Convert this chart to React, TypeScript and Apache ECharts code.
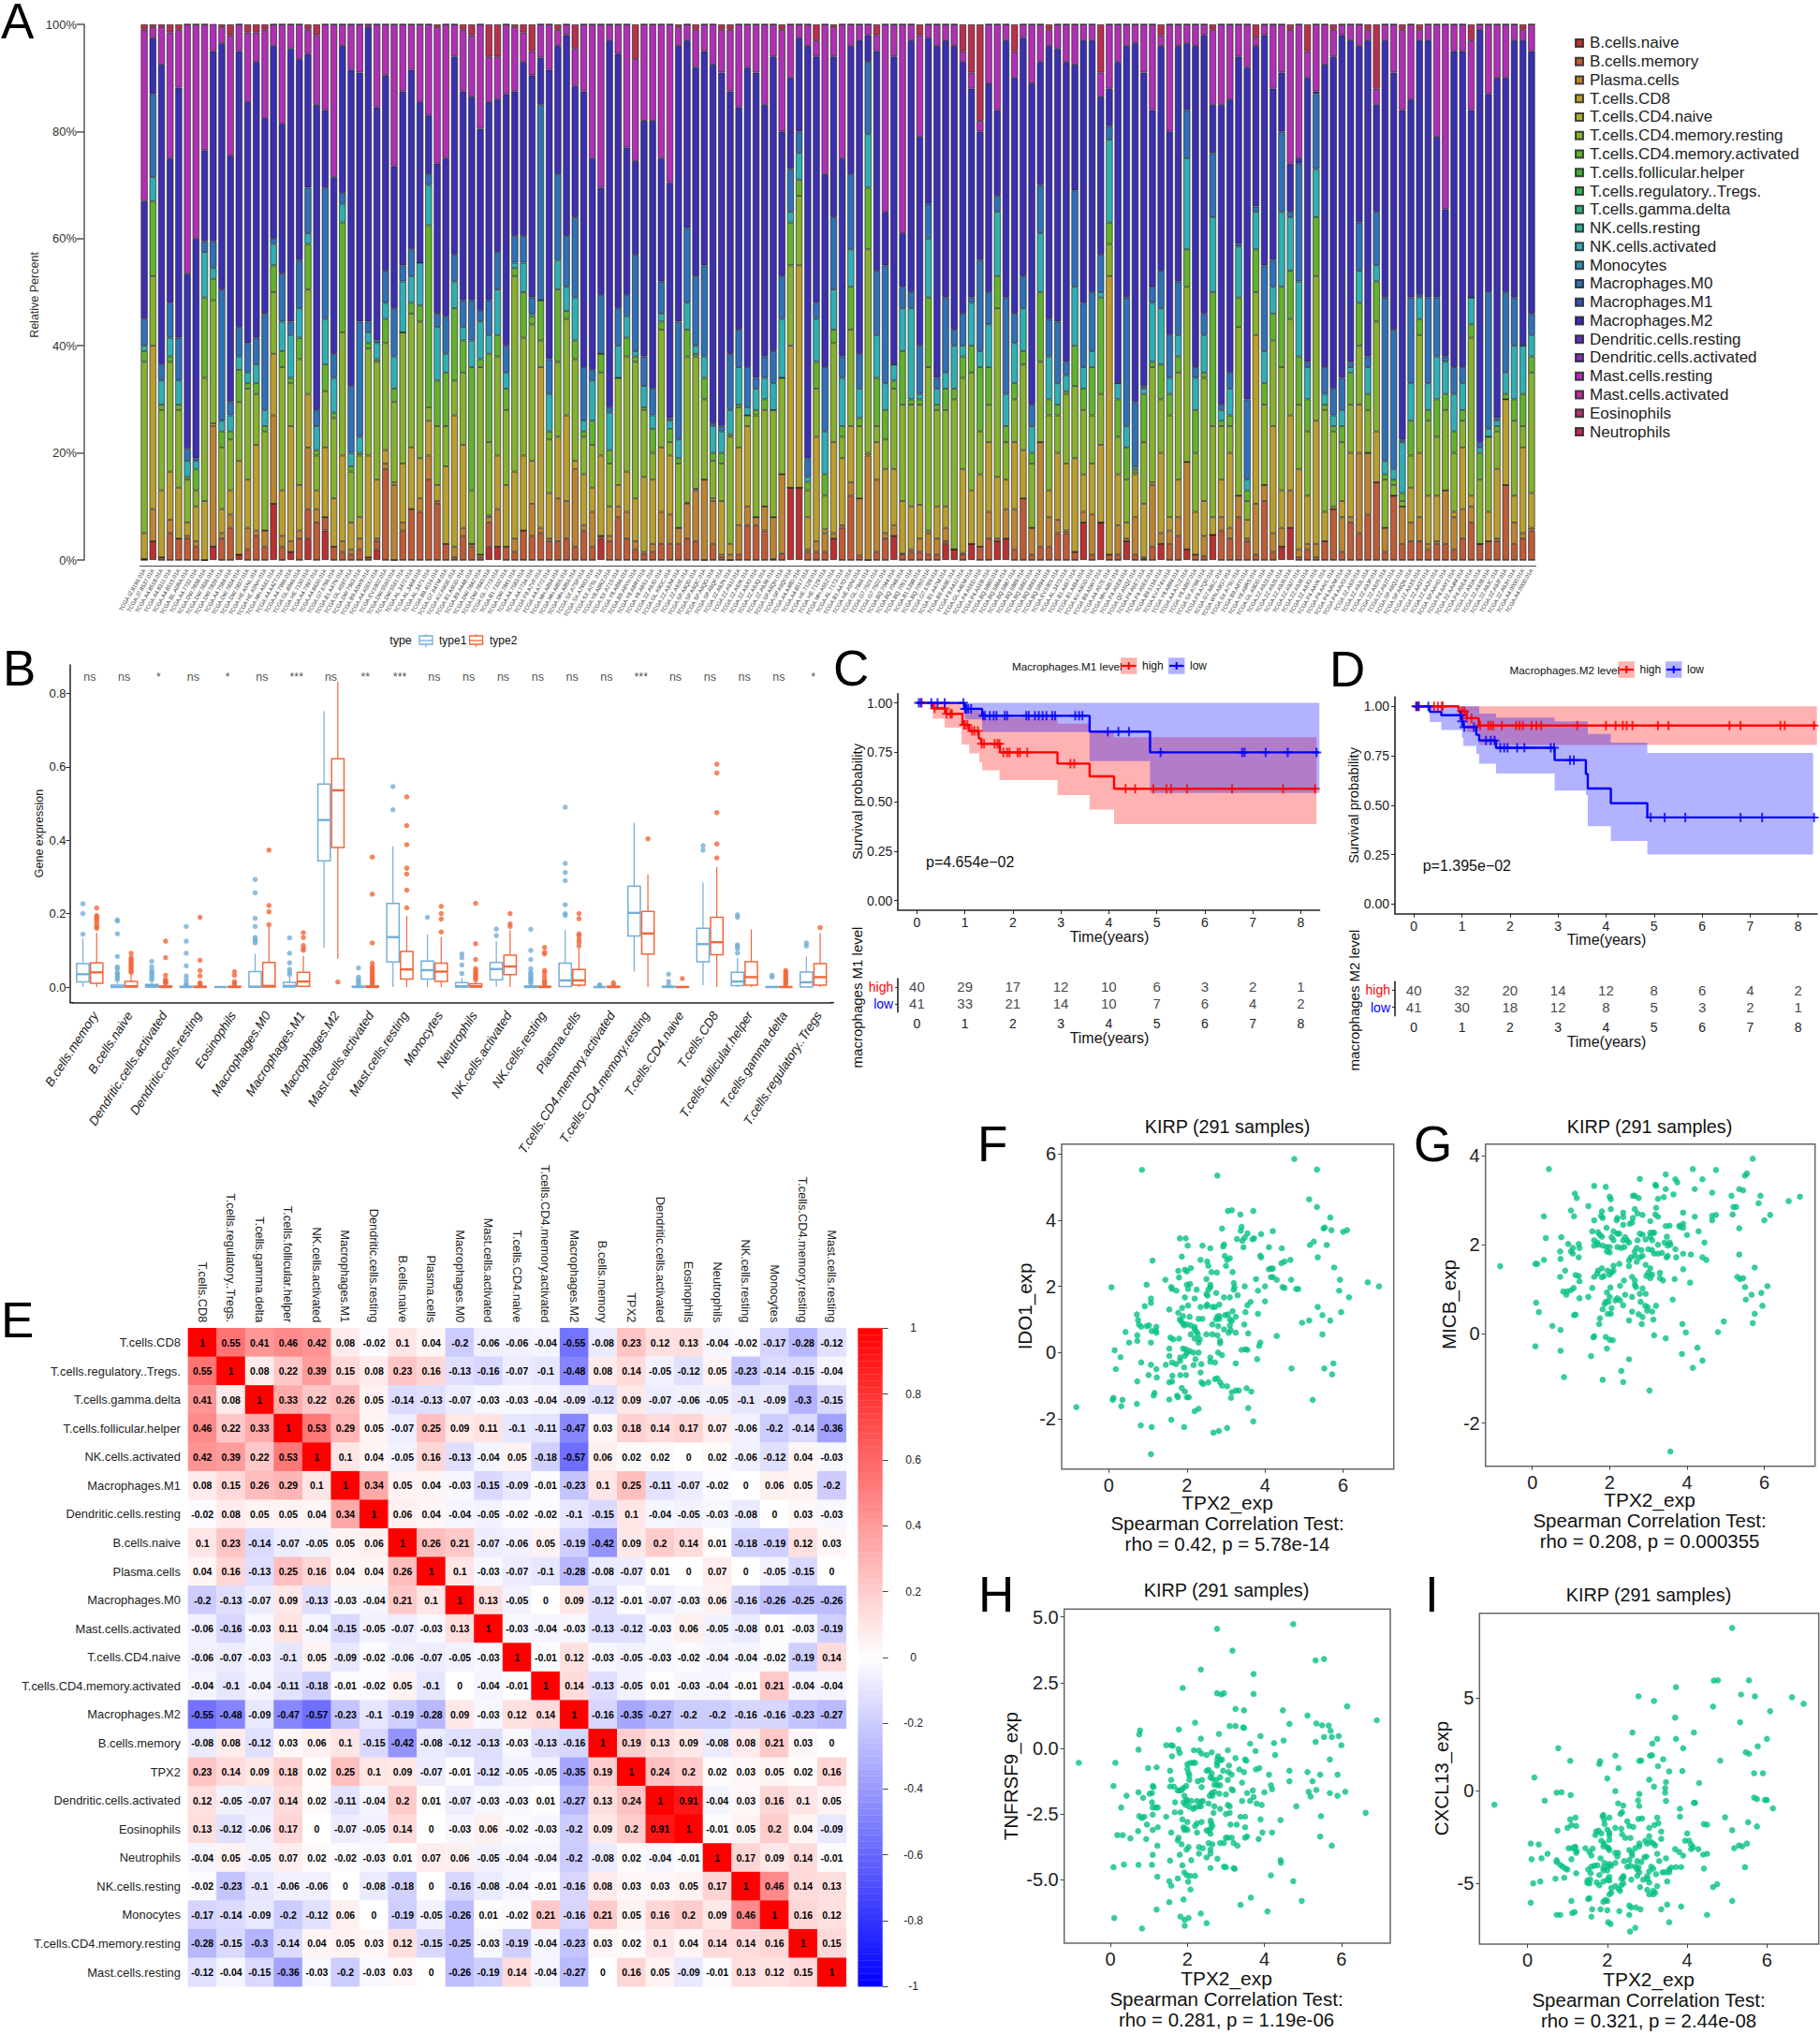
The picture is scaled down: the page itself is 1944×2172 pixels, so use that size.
import React, { useEffect, useRef } from "react";
import * as echarts from "echarts";

const FONT = '"Liberation Sans"';

// ---------- Panel A: cumulative % boundaries per sample:
// memory+naive, plasma, CD8, CD4 resting, CD4 activated, NK activated, M0, M2, mast resting (rest is neutrophils)
const sampleBoundaries = [
[0.2,0.2,5,37,39,40,45,67,99],[3.5,9.5,40,53,67,71.5,87,97.5,99.5],[0.5,0.5,13,28,29,33.5,36.5,92.5,99.5],[5,7.5,16.5,37,38,41.5,48,75,98.5],[4,4,13.5,28,29,33.5,41.5,88.2,99],[4,4.5,7,15,15.5,18.5,20.8,53.5,100],[2.5,3.5,10,13,17,18.5,19,60,100],[0,0,11,34,49,57.5,59.5,76.5,100],[1,23.5,24,47,51,53,58,93.5,100],[4,5,9.5,21,24,26,50.5,96.5,99.5],[6,8.5,13,22.5,24,27,29.5,75.5,98],[1,1,18.5,29.5,35.5,38,43.5,95,100],[2,6,15,32,33,35,40.5,85.5,98.5],[4.5,5.5,21.5,31,33,36.5,41.5,93,98.5],[2.5,5.5,5.5,24,25,28,46,82.5,99],[10.5,27,38.5,50,55,59,60,96,100],[2.5,4.5,13,36,39,44.5,53.5,81.5,100],[1.5,3.5,25,33,34,42,44.5,95.5,100],[4,5.5,14,37.5,41.5,47,56,93.5,100],[9.5,21,31,50.5,59,61,69.5,94.5,99],
[7,9.5,13,19.5,20.5,25,28,85,98],[8,8,21,31.5,36.5,45,69.5,84,100],[2.5,2.5,11.5,26.5,27.5,34,38.5,71.5,100],[1.5,3.5,19.5,42.5,63,66.5,68.5,96,100],[1,2,7,16.5,17.5,20,32.5,91.5,100],[2,4,8,19.5,20,23,44.5,91,100],[0.5,0.5,19.5,39.5,40.5,42.5,44.5,99.5,100],[3.5,4,15,37,37.5,40.5,41,84.5,100],[17,18,20.5,40.5,45,48,54,90.5,100],[0,14,14.5,29.5,32,38,47,73.5,100],[5.5,7,18,42.5,42.5,52,55,87.5,100],[9.5,9.5,21,46,48,53,58,91.5,100],[9,11.5,19,44.5,47.5,55.5,55.5,85.5,100],[15,19.5,26,28.5,62.5,70,72,83,100],[10.5,11,14,25,33.5,43.5,46,74,99.5],[3,3,17.5,25,35,38.5,45.5,75,100],[0.5,2.5,27,33.5,47,52,57,94,100],[4.5,6,21.5,35,41,43.5,48.5,87.5,99],[2.5,3,3,13,36,41,48.5,86.5,98],[0.5,1,1,36,37.5,44.5,46.5,80.5,100],
[7,8,8.3,22,38.5,42,48.5,85.5,94],[2.5,9.5,19.5,38,42,50.5,57.5,86,94],[2.5,2.5,14,28,32,35,40,87,100],[1.5,4,16.5,53,54.5,55.5,60.5,87.5,99.5],[5.5,5.5,19.5,41.5,50,55.5,60.5,93,98.5],[4.5,10.5,18.5,44,45.5,46,49,90.5,95],[5,6,36,41,48.5,48.5,85,93.8,100],[3.5,4,12.5,22.5,24,31,37.5,91.5,100],[3.5,11.5,23,37,50.5,56,72,96,99],[4,11,27,45,46.5,51,60.5,98,100],[2.5,17,18.5,37.5,41,49,64,88.5,95.5],[5.5,6.5,16,23,24,26,36,87.5,100],[2.5,9,13.5,21.5,26,33.5,35.5,75,100],[4.5,4.5,19.5,35,38.5,38.5,49.5,69.5,100],[3.5,4.5,10,18,20.5,27.5,28.5,97,100],[8,10,14,34,34,40,47,94.5,100],[4,9,16.5,38,41.5,45.5,49.5,77,100],[2,3.5,11.5,37,38,39,57,74.5,93.5],[1,1.5,15.5,28,28.5,32.5,38,82,100],
[1.5,3,15,20,24.5,27,32,82,100],[3,9,21,43,44.5,46,52,75,100],[3,8.5,19.5,22,24.5,26,26.5,70.5,100],[3,6,6,18,19,22.5,44.5,96,99.5],[4,10.5,10.7,38,43,48,62,97,100],[3.5,13,13.3,38,38.5,40,53,92,99],[0,15,15,30,34,38,55,95,100],[3,11,11.5,18.5,20,25,25.5,92.5,100],[0.5,1,11,18,20,24,25,91,99],[0,1,3,23,23.5,28,38.5,87.5,99],[1,6.5,21,28.5,29,36,43,84.5,100],[6.5,10,25,27,27,28.5,36,92,100],[6.5,8,8,27,28,32,34,91,100],[5.5,10,10,28,30,34,38,85,100],[0.2,8,8,28,28,33,39,94,100],[1.2,16,16,34,34,45,53,80,99],[13.5,13.5,40,55,63,65,73,90,100],[13.5,13.5,55,68,71,76,80,97.5,100],[1.5,2,8,13,14.6,15.5,19,96,100],[1.5,3.5,23,32,37,45,48,94,97],
[1.5,5,5.7,12,16,24,36,72,100],[4,5,22,40.5,43,50.5,64,94,99.5],[6,6.5,19,23,25,34,38,75,100],[12,14.5,25,43,51,58,72,96,100],[0.8,11.5,11.5,25,26.5,32,38.5,97,100],[0,19.5,20,58,69.5,79.5,93,98,100],[1.5,15,22,25,34,42,54,95,98],[4,5,17,22.5,28,33,55,65,100],[4.5,6.5,17,32,33.5,36.5,36.5,94,100],[1,1.2,11,29,39,47,51,61,100],[1.5,2,10,29,30,47,50,97,100],[1.5,4,10.3,29,30,31,40,79,98],[1,5,5.5,36,49,60,66.5,97.5,100],[1,4,10,28,29,32,34,96,100],[3.5,6,10,28,32,35,49,97,100],[2,2,2,30,32,40,43,96,100],[1,1.3,17,34,38,40,46,93,95],[3,3,13,35,40,48,49,88,91],[2.5,2.5,16,24,36,39,56,80,82],[4,9,22,29,36,44,50,89,100],
[3.5,4,15.5,47,53,65,68,84,100],[4,9.5,15,22,25,31,49,97,100],[2,9.5,22,30,33,40.5,46,90,95],[11.5,11.5,20.5,36.5,39,47,53,97.5,100],[1,6,6,18,20,25,29,89,100],[2.5,22,22,37,50,61,70,93,100],[2.5,8,13,27,30,38,45,96,99],[5,7.5,20,27,29,33,44.5,95.5,100],[5,5.5,18,31,31.5,34.5,37,93,100],[1.5,1.5,19,32.5,40,51,69,92.5,100],[7,9,16,28,32,36,48,97,100],[1,8.5,18,27,36,39,50,97,100],[7,7,21.5,31,49,50,57,86.5,91],[1,1,53,59,63,78.5,81,88,100],[1,6.5,16,23,30,33,33,93,100],[3.5,4,7,15,21,25,49,96,100],[1,8,16,16.5,17,17.5,29.5,96.5,100],[0.2,0.5,10.5,22,31,32,32.5,91,100],[2.5,14,14.5,36,37,48,51,84,100],[3,5,20,30,36.5,47,54,96,98],
[3,5.5,8,27,31,34,42,80,100],[4.5,8,15,35,38,42,52,96,100],[2,18.3,18.3,51,58,75,84,96.5,100],[1,1,9,20,28,34,36,96,100],[0.7,4.5,11,34,35,42,46,98,100],[4.7,4.7,8,25,50,64,76,85,99],[5.5,8,15,25,26,28,29,85,100],[4,6,20,25,27,32,35,86,100],[8,12,12,43.5,49,58.5,59,94,100],[3.5,4,7.5,11,13,15,30,92,100],[1,10.5,42,50,58,65,66,96,97.5],[11,14,14,29,33,39,55,98,100],[1.5,5,25,41,46,51,56,88,100],[2.5,6,13,36,51,65,80,91,100],[6,13,27,45,54,64,65,74,99],[0.5,2,17,29,38,52,74,75,100],[2,3,12,24,30,36,37,90,95],[0.5,3,26,53,64,73,87,87.5,100],[3.5,3.5,9,28,29,31,36,92.5,100],[9.5,9.5,10,24,25,27,32,94,99],
[1.5,8,11,22,25,28,34,98,100],[7,8,20,29,35,36,37,97,100],[5,20,29,40,48,54,63,96,100],[8.5,20,20,28,31,36,38,97,99],[14.5,14.5,24,44.5,52,55,65,85,88],[1.5,6,6,15,16,18.5,49,97,100],[12,12,12,14,15,17,43,91,100],[3,10,10,11,12.5,22,22.5,84,99],[3.5,7,13.5,19.5,26,33,49,86,100],[3.5,8,20,42,45,49,49.5,97,99],[2,3,12,26,28,33,49,97,100],[3,3.5,12,23,30,38,49,79,100],[3,13,13,28,31,37,38,65.5,100],[2,8,9,20,24,31,36,95,100],[4,9.5,21,26,28,33,36,95,100],[7,10,12,41.5,44,49,49,84,97],[3,3,3,15,20,21,22,99,100],[3.5,3.5,9,23,23,24.5,50,87,100],[3.5,4,17,24,25,26,26.5,90,100],[14,14,30,30,31,35,50,90,100],[3,7,12,26,30,40,49,97,100],[4,5,21,25,31,40,40,97,99],[5.5,6,12.5,35,38,42,46,95,100]
];
const bNaiveSparse: Record<number, number> = {1:3.5,8:2.5,11:1,15:10.5,17:1.5,19:4,21:5.5,27:2,40:2.5,41:2.5,53:4,75:13.5,76:13.5,80:4,87:4.5,93:3,94:2,96:3,99:3.5,100:4,109:7,111:7,114:3.5,118:3,121:2,124:4.7,132:2.5,133:6};
const sampleIds = "IZ.8196 J7.8537 A4.8518 A4.8311 A4.8515 BL.A0RA A4.7732 DW.7838 DW.7836 DW.7839 A4.7584 DW.7834 DW.7837 HE.A5NL HE.A5NH MH.A561 A4.A4ZT A4.7996 GL.8946 HE.7130 A4.7997 A4.8630 G7.6796 B1.A47N GL.A59T DW.7963 B9.A5W9 A4.A5DU EV.5902 DW.5560 DW.5561 AL.3472 AL.3468 AL.3471 B9.4116 G7.A4TM KV.A6GE B1.A6GD B9.A44B DW.7842 DW.7840 GL.7773 B1.7332 DW.7841 A4.7583 A4.7734 F9.A7VF A4.A772 MH.A854 MH.A855 MH.A856 SX.A7SP SX.A7WO SX.A7SL Y8.A8RZ SX.A71S Y8.A896 B9.A8YH Y8.A8RY Y8.A8S1 2Z.A9JD GL.A9DC 2Z.A9JM 2Z.A9JE SP.A6QD SP.A6QC SP.A6QG SP.A6QF 2Z.A9JN 2Z.A9JJ 2Z.A9JK 2Z.A9JO 2Z.A9JQ 2Z.A9JR SP.A6QH SP.A6QI A4.A48D A4.8517 HE.7128 HE.7129 MH.A55Z AL.7173 B1.A47O HE.A5NI GL.7966 G7.7501 G7.7502 BQ.7044 BQ.7048 BQ.7051 B1.5398 BQ.7050 G7.6789 B1.A47M B9.A69E F9.A4JJ GL.A4EM P4.A5ED P4.A5EB BQ.5880 BQ.5884 BQ.5887 BQ.5889 BQ.5892 BQ.5893 BQ.5894 EV.5901 AL.3473 B1.A657 B1.A654 KV.A6GD B9.A5W7 A4.A57E MH.A857 P4.A5E8 Q2.A5QZ P4.A5E7 P4.A5E6 B9.5156 KV.A74V Y8.A894 A4.A7UZ Y8.A897 SX.A7SR F9.A7Q0 G7.A8LC WN.A9G7 SX.A7SU B9.A8YI Y8.A8RS GL.A9DD 2Z.A9J3 2Z.A9J5 2Z.A9J6 2Z.A9J7 2Z.A9J8 2Z.A9JG P4.AAVK P4.AAVL P4.AAVM P4.AAVO 2Z.A9JI 2Z.A9JL 2Z.A9JP 2Z.A9JS 2Z.A9JT SP.A6QJ SP.A6QK 2Z.AA3S 2Z.AA3T 2Z.AA3V SP.AAHD P4.AAY2 2Z.AA4M P4.A5E4 2Z.A9JA 2Z.A9JB 2Z.A9JC 2Z.A9JF 2Z.A9JH".split(" ");
const immuneNames = ["B.cells.naive","B.cells.memory","Plasma.cells","T.cells.CD8","T.cells.CD4.naive","T.cells.CD4.memory.resting","T.cells.CD4.memory.activated","T.cells.follicular.helper","T.cells.regulatory..Tregs.","T.cells.gamma.delta","NK.cells.resting","NK.cells.activated","Monocytes","Macrophages.M0","Macrophages.M1","Macrophages.M2","Dendritic.cells.resting","Dendritic.cells.activated","Mast.cells.resting","Mast.cells.activated","Eosinophils","Neutrophils"];
const immuneColors = ["#B83232","#BC5C38","#BA8433","#B89E30","#A9B32F","#86B030","#62B030","#3DB035","#30B050","#32B077","#30B09A","#30AEB2","#308FB5","#3070B5","#3250B5","#3A30B0","#6030B5","#8030B5","#B030B5","#B83099","#B83075","#B8304E"];

// ---------- Panel B
const boxCategories = ["B.cells.memory","B.cells.naive","Dendritic.cells.activated","Dendritic.cells.resting","Eosinophils","Macrophages.M0","Macrophages.M1","Macrophages.M2","Mast.cells.activated","Mast.cells.resting","Monocytes","Neutrophils","NK.cells.activated","NK.cells.resting","Plasma.cells","T.cells.CD4.memory.activated","T.cells.CD4.memory.resting","T.cells.CD4.naive","T.cells.CD8","T.cells.follicular.helper","T.cells.gamma.delta","T.cells.regulatory..Tregs"];
const significance = ["ns","ns","*","ns","*","ns","***","ns","**","***","ns","ns","ns","ns","ns","ns","***","ns","ns","ns","ns","*"];
// q1, median, q3, whisker low, whisker high
const type1Boxes = [[.014,.035,.064,0,.132],[0,0,.005,0,.012],[0,.002,.007,0,.015],[0,0,.002,0,.004],[0,0,0,0,0],[0,.001,.042,0,.09],[0,.003,.013,0,.03],[.344,.455,.553,.107,.752],[0,0,.002,0,.004],[.068,.136,.228,0,.383],[.022,.046,.071,0,.143],[0,.002,.012,0,.025],[.02,.049,.067,0,.125],[0,0,.003,0,.006],[.001,.018,.065,0,.156],[0,0,0,0,0],[.139,.202,.275,.042,.448],[0,0,.002,0,.004],[.069,.117,.16,.005,.285],[.004,.015,.04,0,.08],[0,0,.001,0,.002],[0,.013,.041,0,.083]];
const type2Boxes = [[.01,.04,.066,0,.148],[0,.002,.015,0,.035],[0,0,.003,0,.007],[0,0,.002,0,.004],[0,0,.002,0,.004],[0,.003,.067,0,.165],[.002,.015,.04,0,.085],[.38,.536,.622,.077,.833],[0,0,.003,0,.004],[.022,.048,.097,0,.194],[.015,.042,.065,0,.136],[0,.002,.009,0,.015],[.034,.056,.087,0,.155],[0,0,.002,0,.004],[.005,.018,.048,0,.105],[0,0,.002,0,.004],[.09,.146,.206,0,.307],[0,0,.001,0,.002],[.088,.122,.19,0,.327],[.005,.027,.069,0,.157],[0,0,.001,0,.002],[.005,.027,.064,0,.147]];
const type1Outliers = [[.144,.2,.227],[.02,.025,.03,.035,.04,.05,.055,.083,.145,.18,.183],[.02,.025,.03,.035,.04,.045,.055,.07],[.005,.01,.02,.03,.058,.092,.125,.165],[],[.12,.125,.13,.135,.165,.187,.257,.293],[.035,.04,.048,.066,.092,.134],[],[.005,.01,.015,.02,.027,.052],[.483,.546],[.19],[.037,.06,.08,.09],[.14,.158],[.01,.015,.02,.025,.03,.035,.04,.05,.075,.1,.157],[.195,.2,.224,.29,.312,.337,.49],[.003,.006],[],[.005,.015,.035],[.373,.385],[.093,.105,.11,.115,.19,.197],[.027,.032],[.112,.12]];
const type2Outliers = [[.16,.165,.172,.18,.186,.19,.195,.215],[.04,.045,.05,.055,.06,.065,.07,.075,.08,.092],[.01,.013,.017,.02,.032,.08,.125],[.005,.008,.012,.03,.045,.073,.19],[.005,.01,.015,.032,.042],[.17,.205,.222,.373],[.1,.105,.113,.135,.148],[.014],[.005,.01,.015,.02,.025,.03,.035,.04,.045,.05,.055,.065,.12,.253,.354],[.216,.264,.308,.324,.388,.44,.518],[.15,.185,.2,.22],[.02,.025,.03,.035,.04,.045,.05,.075,.118,.228],[.165,.172,.2],[.005,.01,.015,.02,.03,.04,.045,.09,.095,.108],[.112,.122,.13,.14,.145,.186,.2],[.005,.012],[.404],[.023],[.352,.39,.475,.583,.607],[],[.005,.01,.015,.02,.025,.03,.035,.04,.045],[.162]];

// ---------- Panels C, D
const cHighT = [0,.33,.6,.95,1.09,1.29,1.34,1.73,2.93,3.6,4.11,8.33];
const cHighS = [1,.972,.945,.889,.858,.82,.793,.75,.693,.629,.566,.566];
const cLowT = [0,1.0,1.36,3.6,4.86,8.38];
const cLowS = [1,.97,.935,.855,.75,.75];
const cHighBandT = [0,.33,.58,.93,1.09,1.3,1.36,1.72,2.93,3.6,4.11,8.33];
const cHighLower = [1,.92,.875,.79,.745,.70,.66,.61,.534,.46,.387];
const cHighUpper = [1,1,1,.98,.96,.95,.925,.925,.895,.853,.826];
const cLowBandT = [0,1.0,1.36,3.6,4.86,8.39];
const cLowLower = [1,.916,.853,.706,.545];
const cLowUpper = [1,1,1,1,1];
const cHighCensor = [.1,.37,.58,.62,.7,.73,.98,1.0,1.05,1.15,1.2,1.27,1.35,1.4,1.62,1.68,1.72,1.8,1.88,1.93,2.1,2.15,2.3,3.2,3.28,4.35,4.55,4.93,5.2,5.3,5.63,6.57,7.63,8.3];
const cLowCensor = [.04,.08,.3,.43,.58,.97,1.0,1.03,1.07,1.13,1.38,1.42,1.52,1.6,1.66,1.83,1.88,2.28,2.33,2.46,2.54,2.62,2.7,2.82,2.88,3.3,3.38,3.45,3.98,4.2,4.42,5.08,6.78,6.83,7.27,7.73,8.33];
const cHighRisk = [40,29,17,12,10,6,3,2,1];
const cLowRisk = [41,33,21,14,10,7,6,4,2];
const dHighT = [0,.93,1.1,1.35,8.38];
const dHighS = [1,.975,.94,.903,.903];
const dLowT = [0,.33,.57,1.0,1.03,1.3,1.36,1.71,2.93,3.58,3.62,4.1,4.86,8.35];
const dLowS = [1,.972,.955,.924,.895,.856,.827,.79,.728,.658,.584,.51,.438,.438];
const dHighBandT = [0,.93,1.1,1.35,8.39];
const dHighLower = [1,.93,.87,.804];
const dHighUpper = [1,1,1,1];
const dLowBandT = [0,.33,.57,1.0,1.03,1.3,1.36,1.71,2.93,3.58,3.62,4.1,4.86,8.31];
const dLowLower = [1,.92,.88,.84,.80,.76,.71,.66,.574,.55,.394,.319,.25];
const dLowUpper = [1,1,1,1,1,1,.963,.943,.924,.924,.86,.816,.764];
const dHighCensor = [.05,.08,.1,.42,.5,.58,.6,1.0,1.05,1.1,1.2,1.38,1.55,1.6,1.65,1.83,2.13,2.2,2.27,2.45,2.55,2.65,3.4,4.0,4.2,4.35,4.43,4.55,5.08,5.3,6.57,6.8,7.63,7.72,8.33];
const dLowCensor = [.05,.1,.3,.97,1.0,1.05,1.25,1.5,1.6,1.68,1.8,1.88,1.95,2.15,2.3,2.85,2.92,3.25,3.33,4.93,5.22,5.65,6.8,7.25,8.33];
const dHighRisk = [40,32,20,14,12,8,6,4,2];
const dLowRisk = [41,30,18,12,8,5,3,2,1];
const yearTicks = [0,1,2,3,4,5,6,7,8];
const survivalTicks = [0,.25,.5,.75,1];

// ---------- Panel E
const corrNames = ["T.cells.CD8","T.cells.regulatory..Tregs.","T.cells.gamma.delta","T.cells.follicular.helper","NK.cells.activated","Macrophages.M1","Dendritic.cells.resting","B.cells.naive","Plasma.cells","Macrophages.M0","Mast.cells.activated","T.cells.CD4.naive","T.cells.CD4.memory.activated","Macrophages.M2","B.cells.memory","TPX2","Dendritic.cells.activated","Eosinophils","Neutrophils","NK.cells.resting","Monocytes","T.cells.CD4.memory.resting","Mast.cells.resting"];
const corrMatrix = [
[1,.55,.41,.46,.42,.08,-.02,.1,.04,-.2,-.06,-.06,-.04,-.55,-.08,.23,.12,.13,-.04,-.02,-.17,-.28,-.12],
[.55,1,.08,.22,.39,.15,.08,.23,.16,-.13,-.16,-.07,-.1,-.48,.08,.14,-.05,-.12,.05,-.23,-.14,-.15,-.04],
[.41,.08,1,.33,.22,.26,.05,-.14,-.13,-.07,-.03,-.03,-.04,-.09,-.12,.09,-.07,-.06,-.05,-.1,-.09,-.3,-.15],
[.46,.22,.33,1,.53,.29,.05,-.07,.25,.09,.11,-.1,-.11,-.47,.03,.18,.14,.17,.07,-.06,-.2,-.14,-.36],
[.42,.39,.22,.53,1,.1,.04,-.05,.16,-.13,-.04,.05,-.18,-.57,.06,.02,.02,0,.02,-.06,-.12,.04,-.03],
[.08,.15,.26,.29,.1,1,.34,.05,.04,-.03,-.15,-.09,-.01,-.23,.1,.25,-.11,-.07,-.02,0,.06,.05,-.2],
[-.02,.08,.05,.05,.04,.34,1,.06,.04,-.04,-.05,-.02,-.02,-.1,-.15,.1,-.04,-.05,-.03,-.08,0,.03,-.03],
[.1,.23,-.14,-.07,-.05,.05,.06,1,.26,.21,-.07,-.06,.05,-.19,-.42,.09,.2,.14,.01,-.18,-.19,.12,.03],
[.04,.16,-.13,.25,.16,.04,.04,.26,1,.1,-.03,-.07,-.1,-.28,-.08,-.07,.01,0,.07,0,-.05,-.15,0],
[-.2,-.13,-.07,.09,-.13,-.03,-.04,.21,.1,1,.13,-.05,0,.09,-.12,-.01,-.07,-.03,.06,-.16,-.26,-.25,-.26],
[-.06,-.16,-.03,.11,-.04,-.15,-.05,-.07,-.03,.13,1,-.03,-.04,-.03,-.13,-.12,-.03,.06,-.05,-.08,.01,-.03,-.19],
[-.06,-.07,-.03,-.1,.05,-.09,-.02,-.06,-.07,-.05,-.03,1,-.01,.12,-.03,-.05,-.03,-.02,-.04,-.04,-.02,-.19,.14],
[-.04,-.1,-.04,-.11,-.18,-.01,-.02,.05,-.1,0,-.04,-.01,1,.14,-.13,-.05,.01,-.03,-.04,-.01,.21,-.04,-.04],
[-.55,-.48,-.09,-.47,-.57,-.23,-.1,-.19,-.28,.09,-.03,.12,.14,1,-.16,-.35,-.27,-.2,-.2,-.16,-.16,-.23,-.27],
[-.08,.08,-.12,.03,.06,.1,-.15,-.42,-.08,-.12,-.13,-.03,-.13,-.16,1,.19,.13,.09,-.08,.08,.21,.03,0],
[.23,.14,.09,.18,.02,.25,.1,.09,-.07,-.01,-.12,-.05,-.05,-.35,.19,1,.24,.2,.02,.03,.05,.02,.16],
[.12,-.05,-.07,.14,.02,-.11,-.04,.2,.01,-.07,-.03,-.03,.01,-.27,.13,.24,1,.91,-.04,.03,.16,.1,.05],
[.13,-.12,-.06,.17,0,-.07,-.05,.14,0,-.03,.06,-.02,-.03,-.2,.09,.2,.91,1,-.01,.05,.2,.04,-.09],
[-.04,.05,-.05,.07,.02,-.02,-.03,.01,.07,.06,-.05,-.04,-.04,-.2,-.08,.02,-.04,-.01,1,.17,.09,.14,-.01],
[-.02,-.23,-.1,-.06,-.06,0,-.08,-.18,0,-.16,-.08,-.04,-.01,-.16,.08,.03,.03,.05,.17,1,.46,.14,.13],
[-.17,-.14,-.09,-.2,-.12,.06,0,-.19,-.05,-.26,.01,-.02,.21,-.16,.21,.05,.16,.2,.09,.46,1,.16,.12],
[-.28,-.15,-.3,-.14,.04,.05,.03,.12,-.15,-.25,-.03,-.19,-.04,-.23,.03,.02,.1,.04,.14,.14,.16,1,.15],
[-.12,-.04,-.15,-.36,-.03,-.2,-.03,.03,0,-.26,-.19,.14,-.04,-.27,0,.16,.05,-.09,-.01,.13,.12,.15,1]
];

// ---------- Panels F-I
const pointsF = [[-0.83,-1.65],[0.85,5.52],[2.78,5.35],[4.75,5.85],[5.33,5.53],[5.13,4.63],[5.33,4.4],[5.67,4.08],[3.05,4.28],[3.15,4.3],[3.7,4.28],[3.37,4.17],[3.4,3.8],[3.38,3.68],[3.55,3.6],[2.9,3.75],[3.9,3.58],[4.2,3.67],[5.5,3.75],[5.53,3.78],[5.7,3.7],[6.0,3.65],[6.1,3.7],[3.72,3.45],[3.68,3.42],[3.48,3.47],[3.42,3.38],[3.28,3.43],[1.82,3.45],[1.97,3.45],[2.02,3.23],[2.4,3.23],[2.6,3.15],[2.95,3.27],[2.93,3.2],[3.45,3.18],[4.1,3.18],[4.43,3.15],[5.25,3.35],[5.15,3.25],[5.58,3.25],[5.35,2.88],[2.97,2.92],[3.1,2.85],[3.03,2.8],[1.87,2.9],[1.12,2.78],[2.35,2.8],[2.52,2.75],[2.55,2.62],[3.0,2.62],[3.88,2.93],[3.9,2.88],[4.65,2.8],[4.5,2.75],[4.42,2.7],[5.77,2.57],[4.1,2.52],[4.15,2.54],[4.2,2.54],[2.1,2.55],[2.0,2.45],[1.95,2.5],[1.78,2.47],[2.63,2.43],[2.77,2.42],[3.17,2.43],[1.8,2.27],[1.45,2.2],[2.5,2.22],[3.77,2.22],[4.15,2.28],[4.2,2.28],[4.3,2.2],[4.67,2.2],[5.92,2.2],[6.63,2.12],[6.92,2.0],[0.07,1.97],[0.97,2.05],[1.6,1.98],[1.62,1.92],[1.73,1.87],[2.0,2.05],[2.08,2.07],[2.03,1.92],[2.25,1.9],[2.6,2.05],[2.6,1.97],[2.55,1.9],[2.75,1.8],[3.2,2.1],[3.22,1.97],[3.2,1.9],[3.48,2.0],[4.0,2.0],[3.82,1.87],[4.45,1.98],[4.5,1.95],[4.8,1.92],[4.85,1.92],[5.9,1.87],[6.15,1.67],[1.08,1.63],[1.08,1.5],[0.92,1.4],[1.95,1.67],[2.2,1.63],[2.5,1.77],[2.53,1.72],[3.1,1.67],[2.95,1.67],[3.3,1.73],[4.0,1.55],[3.63,1.53],[3.55,1.43],[2.03,1.42],[1.88,1.35],[2.35,1.38],[2.52,1.45],[2.5,1.4],[2.65,1.38],[2.72,1.38],[2.83,1.45],[5.35,1.38],[1.55,1.3],[3.5,1.22],[3.17,1.25],[3.05,1.15],[2.98,1.13],[5.95,1.22],[0.72,1.15],[1.78,1.2],[1.9,1.1],[2.07,1.08],[2.78,1.08],[2.83,1.1],[3.25,1.08],[3.82,1.17],[5.47,1.13],[2.3,1.02],[2.4,1.02],[2.75,1.0],[2.83,1.02],[3.15,0.95],[3.1,1.0],[5.13,0.97],[5.67,0.97],[0.75,0.98],[0.77,0.85],[0.83,0.78],[0.97,0.8],[1.03,0.82],[1.22,0.78],[1.82,1.0],[1.85,0.95],[1.9,0.88],[1.93,0.82],[2.0,0.85],[2.1,0.82],[2.2,0.78],[2.65,0.85],[2.8,0.8],[3.1,0.82],[3.47,0.85],[4.95,0.9],[1.1,0.65],[1.2,0.67],[1.22,0.6],[2.2,0.7],[2.25,0.63],[2.28,0.55],[2.1,0.55],[2.5,0.55],[2.65,0.55],[2.78,0.52],[2.95,0.7],[3.07,0.6],[3.12,0.68],[3.25,0.6],[3.57,0.58],[0.43,0.62],[5.47,0.55],[4.3,0.5],[0.73,0.52],[0.73,0.35],[0.52,0.3],[1.08,0.3],[1.58,0.45],[1.65,0.4],[1.8,0.42],[2.2,0.42],[2.33,0.4],[2.3,0.3],[2.85,0.35],[2.85,0.28],[3.88,0.3],[3.85,0.2],[3.4,0.08],[3.5,0.1],[3.55,0.08],[0.15,0.07],[1.55,0.12],[1.9,0.12],[1.97,0.1],[2.07,0.05],[2.17,0],[2.3,0],[2.8,0],[2.9,-0.08],[1.55,-0.1],[1.83,-0.15],[1.95,-0.1],[2.0,-0.02],[2.22,-0.2],[2.6,-0.15],[0.3,-0.14],[3.8,-0.2],[0.83,-0.3],[1.62,-0.3],[1.72,-0.35],[1.83,-0.25],[2.6,-0.28],[2.72,-0.3],[2.37,-0.35],[2.17,-0.38],[1.08,-0.37],[1.46,-0.37],[1.93,-0.45],[3.25,-0.33],[5.75,-0.33],[0.18,-0.5],[1.22,-0.5],[4.68,-0.48],[5.52,-0.48],[1.02,-0.68],[1.63,-0.7],[1.83,-0.68],[1.98,-0.68],[2.35,-0.6],[5.72,-0.66],[0.73,-0.87],[1.23,-0.75],[1.55,-0.9],[1.62,-0.88],[2.37,-0.9],[2.42,-0.95],[2.55,-0.9],[2.72,-0.8],[2.78,-0.78],[2.85,-0.9],[2.9,-1.0],[3.03,-1.02],[1.87,-1.07],[3.53,-1.08],[1.95,-1.18],[3.15,-1.2],[3.25,-1.15],[3.33,-1.15],[3.65,-1.18],[1.17,-1.22],[1.15,-1.3],[1.75,-1.3],[1.77,-1.35],[2.0,-1.35],[2.05,-1.35],[3.13,-1.37],[0.12,-1.37],[0.1,-1.43],[0.35,-1.43],[1.55,-1.42],[5.22,-1.43],[0.72,-1.55],[0.32,-1.62],[2.2,-1.77],[2.3,-1.7],[3.57,-1.68],[1.6,-2.03],[3.7,-2.08],[0.82,-2.2],[1.1,-2.25],[1.93,-2.25],[2.68,-2.42],[2.82,-2.37],[3.03,-2.28],[1.08,-3.07]];
const pointsG = [[-0.83,1.52],[0.43,3.7],[5.7,3.93],[4.15,3.7],[4.75,3.68],[3.45,3.58],[5.55,3.6],[5.5,3.55],[2.78,3.48],[3.7,3.47],[3.75,3.4],[4.4,3.47],[1.6,3.32],[1.9,3.3],[3.2,3.32],[3.18,3.35],[3.45,3.25],[4.2,3.25],[5.35,3.25],[5.45,3.22],[4.65,3.17],[1.1,3.15],[2.6,3.1],[2.65,3.1],[2.0,3.08],[2.03,3.02],[1.15,3.05],[3.65,3.13],[3.4,3.07],[3.25,3.03],[2.75,3.05],[5.15,3.1],[5.9,3.1],[6.63,2.98],[6.92,3.08],[5.85,2.93],[1.45,2.87],[5.2,2.85],[5.27,2.85],[1.0,2.77],[2.03,2.8],[3.2,2.83],[2.65,2.8],[1.8,2.75],[2.35,2.72],[2.72,2.7],[2.85,2.67],[3.18,2.68],[3.25,2.63],[3.9,2.72],[5.18,2.68],[4.65,2.65],[4.75,2.67],[6.15,2.67],[0.3,2.64],[1.08,2.64],[1.78,2.65],[1.82,2.6],[2.2,2.6],[2.35,2.62],[2.6,2.6],[2.18,2.55],[4.2,2.63],[1.6,2.55],[3.05,2.53],[6.0,2.55],[4.65,2.55],[2.52,2.47],[2.58,2.5],[2.35,2.45],[3.45,2.42],[3.55,2.43],[3.8,2.43],[3.9,2.47],[3.9,2.38],[3.82,2.4],[5.35,2.37],[1.92,2.38],[1.55,2.3],[1.7,2.28],[1.75,2.22],[1.8,2.18],[2.1,2.3],[2.2,2.25],[2.25,2.25],[2.78,2.25],[2.85,2.23],[3.05,2.27],[3.12,2.27],[3.15,2.27],[4.0,2.22],[4.3,2.3],[0.35,2.15],[0.75,2.17],[2.05,2.17],[2.4,2.17],[2.1,2.1],[2.35,2.1],[2.45,2.1],[3.05,2.18],[3.48,2.18],[3.1,2.1],[2.93,2.12],[1.6,2.1],[1.68,2.05],[1.7,2.0],[1.6,1.98],[1.82,1.98],[2.5,2.05],[2.72,2.1],[3.25,2.0],[3.42,2.05],[3.55,2.05],[3.5,1.98],[3.57,2.0],[4.45,2.05],[0.93,2.02],[1.2,2.02],[1.05,1.93],[1.22,1.93],[1.92,1.95],[2.0,1.95],[2.2,1.95],[2.3,1.93],[2.38,1.95],[2.7,1.93],[3.0,1.9],[3.1,1.88],[2.82,1.88],[3.7,1.9],[0.72,1.85],[1.0,1.85],[1.05,1.8],[1.93,1.85],[2.0,1.83],[2.65,1.85],[3.15,1.8],[3.25,1.8],[3.35,1.82],[3.9,1.8],[4.1,1.78],[5.35,1.78],[2.65,1.75],[2.55,1.72],[2.85,1.75],[2.78,1.72],[3.5,1.75],[3.47,1.72],[3.72,1.72],[1.2,1.72],[0.73,1.68],[0.3,1.66],[0.08,1.57],[0.13,1.57],[2.5,1.65],[2.7,1.62],[4.4,1.72],[4.5,1.66],[2.25,1.57],[2.1,1.53],[2.5,1.52],[2.93,1.55],[3.05,1.47],[3.9,1.45],[5.75,1.49],[1.8,1.47],[1.95,1.42],[2.1,1.42],[0.85,1.42],[1.7,1.42],[3.3,1.37],[1.12,1.32],[1.2,1.3],[0.72,1.28],[1.6,1.28],[1.68,1.35],[1.8,1.27],[1.85,1.3],[2.05,1.38],[2.0,1.33],[2.58,1.28],[3.0,1.37],[3.1,1.33],[2.95,1.3],[3.05,1.25],[3.3,1.25],[3.38,1.2],[3.68,1.23],[5.3,1.28],[5.37,1.23],[5.45,1.25],[2.37,1.2],[2.65,1.2],[2.27,1.08],[1.22,1.18],[2.65,1.1],[2.68,1.05],[4.08,1.15],[1.07,1.03],[1.55,1.03],[2.02,1.04],[2.85,1.02],[5.5,1.05],[6.08,1.07],[0.8,0.95],[0.9,0.95],[1.0,0.98],[1.93,0.93],[0.88,0.88],[2.4,0.88],[2.78,0.9],[2.93,0.9],[5.67,0.88],[5.92,0.92],[1.22,0.8],[1.45,0.83],[2.0,0.83],[2.58,0.83],[2.2,0.8],[2.15,0.75],[2.27,0.75],[3.63,0.77],[5.52,0.77],[1.9,0.72],[1.87,0.67],[1.97,0.72],[2.8,0.72],[0.1,0.7],[2.35,0.64],[2.92,0.63],[2.98,0.6],[3.2,0.63],[5.95,0.63],[2.05,0.58],[1.82,0.55],[2.03,0.45],[2.58,0.5],[2.75,0.44],[2.97,0.52],[3.1,0.5],[0.17,0.49],[1.08,0.42],[1.12,0.43],[1.95,0.45],[2.85,0.38],[5.75,0.45],[1.75,0.35],[2.5,0.3],[3.13,0.32],[4.95,0.28],[1.73,0.22],[2.83,0.22],[3.88,0.22],[5.7,0.24],[0.52,0.18],[0.73,0.09],[3.97,0.03],[4.8,0.04],[3.15,-0.03],[1.58,-0.08],[1.6,-0.05],[1.9,-0.07],[2.0,-0.13],[2.08,-0.14],[3.45,-0.1],[0.08,-0.28],[1.93,-0.33],[4.27,-0.31],[0.73,-0.38],[3.87,-0.45],[1.52,-0.5],[2.5,-0.57],[4.4,-0.6],[4.15,-0.76],[2.3,-0.83],[0.82,-0.97],[1.82,-1.03],[2.35,-1.08],[3.03,-1.27],[3.57,-2.64]];
const pointsH = [[-0.82,-0.55],[0.13,-0.55],[2.77,4.55],[4.75,4.73],[3.17,3.72],[5.33,3.35],[5.55,3.4],[2.35,3.0],[3.72,2.83],[1.88,2.3],[2.77,2.1],[2.88,2.05],[2.95,2.1],[3.72,2.07],[3.25,1.5],[3.47,1.45],[4.48,1.45],[6.15,1.6],[5.12,1.25],[6.92,1.07],[2.2,0.98],[5.35,0.95],[5.5,0.88],[5.67,0.87],[4.65,0.93],[3.1,0.85],[3.25,0.85],[3.47,0.78],[3.45,0.8],[1.78,0.72],[0.77,0.68],[0.75,0.53],[5.72,0.67],[2.82,0.55],[2.35,0.37],[3.9,0.47],[5.55,0.43],[5.75,0.43],[5.93,0.47],[5.33,0.25],[4.5,0.3],[4.25,0.2],[3.63,0.18],[6.0,0.12],[1.45,0.12],[1.58,0.12],[1.62,0.1],[0.73,-0.05],[1.77,-0.03],[1.8,-0.17],[2.17,-0.07],[2.3,-0.08],[2.37,-0.2],[2.5,-0.25],[2.63,-0.15],[3.05,-0.07],[3.77,-0.1],[4.28,-0.25],[1.6,-0.3],[2.8,-0.3],[2.78,-0.4],[2.9,-0.43],[2.85,-0.45],[3.25,-0.37],[3.5,-0.42],[3.53,-0.47],[5.7,-0.42],[2.0,-0.6],[2.08,-0.55],[2.15,-0.55],[2.2,-0.55],[2.77,-0.55],[2.77,-0.65],[3.08,-0.65],[3.35,-0.8],[0.98,-0.75],[1.2,-0.72],[1.55,-0.85],[2.0,-0.78],[2.03,-0.93],[2.5,-0.85],[2.55,-0.82],[2.63,-0.95],[2.93,-0.85],[3.07,-0.9],[3.15,-1.0],[3.47,-0.9],[3.78,-0.8],[3.87,-0.75],[4.12,-1.0],[4.65,-0.85],[5.12,-0.9],[5.45,-1.0],[2.05,-1.03],[2.6,-1.1],[2.05,-1.2],[1.58,-1.2],[2.27,-1.25],[2.38,-1.2],[2.65,-1.15],[2.75,-1.2],[2.85,-1.1],[3.05,-1.2],[3.42,-1.3],[4.65,-1.25],[5.25,-1.25],[5.9,-1.0],[0.08,-1.43],[1.1,-1.43],[1.12,-1.47],[1.55,-1.45],[1.65,-1.45],[1.75,-1.6],[1.85,-1.58],[1.9,-1.5],[1.97,-1.43],[2.37,-1.47],[2.7,-1.38],[2.78,-1.4],[2.85,-1.4],[3.15,-1.55],[3.18,-1.6],[4.17,-1.4],[4.2,-1.55],[0.73,-1.67],[1.02,-1.72],[1.08,-1.7],[1.8,-1.6],[2.63,-1.7],[2.7,-1.65],[2.83,-1.72],[3.0,-1.75],[3.55,-1.7],[3.7,-1.6],[4.0,-1.67],[5.15,-1.65],[5.35,-1.58],[5.7,-1.7],[5.9,-1.8],[6.1,-1.65],[0.42,-1.8],[5.2,-1.83],[0.85,-1.88],[1.92,-1.8],[2.58,-1.8],[2.65,-1.8],[3.72,-1.85],[1.98,-1.95],[2.1,-2.0],[1.08,-2.05],[1.68,-2.05],[1.9,-2.05],[2.0,-2.0],[2.25,-2.0],[2.4,-2.0],[2.35,-2.03],[3.63,-2.0],[3.42,-2.0],[0.28,-2.25],[1.1,-2.25],[1.18,-2.25],[1.23,-2.25],[1.95,-2.15],[2.05,-2.22],[2.15,-2.3],[2.2,-2.25],[2.3,-2.2],[2.35,-2.2],[2.55,-2.1],[2.7,-2.2],[3.05,-2.15],[3.1,-2.2],[3.8,-2.1],[3.93,-2.15],[4.83,-2.2],[1.67,-2.43],[1.82,-2.43],[2.68,-2.45],[2.85,-2.3],[3.0,-2.5],[3.1,-2.45],[3.38,-2.6],[3.5,-2.6],[0.75,-2.58],[0.82,-2.65],[0.88,-2.6],[1.1,-2.52],[1.45,-2.6],[5.47,-2.58],[6.63,-2.45],[2.0,-2.8],[1.87,-2.7],[2.6,-2.75],[2.62,-2.85],[2.25,-2.85],[2.2,-2.95],[2.37,-2.8],[2.65,-2.95],[3.12,-2.9],[3.28,-2.9],[3.9,-2.7],[4.42,-2.73],[0.95,-2.9],[1.23,-3.0],[1.9,-3.0],[1.95,-3.05],[2.0,-3.1],[2.6,-3.05],[2.55,-3.15],[3.5,-3.0],[3.55,-3.35],[0.72,-3.15],[1.1,-3.1],[1.58,-3.2],[1.92,-3.1],[2.25,-3.2],[2.5,-3.12],[2.6,-3.25],[3.95,-3.2],[4.2,-3.2],[0.18,-3.3],[0.32,-3.3],[0.52,-3.42],[0.93,-3.45],[1.77,-3.4],[1.75,-3.5],[3.0,-3.4],[3.05,-3.4],[3.15,-3.4],[3.2,-3.6],[3.3,-3.7],[3.85,-3.45],[3.5,-3.4],[5.45,-3.35],[1.85,-3.65],[2.55,-3.6],[2.65,-3.65],[2.85,-3.6],[2.95,-3.6],[5.75,-3.7],[1.22,-3.7],[1.98,-3.85],[2.03,-3.75],[2.3,-3.75],[2.4,-3.8],[2.6,-3.85],[2.6,-4.0],[2.3,-4.0],[1.1,-4.05],[1.8,-4.05],[2.5,-4.15],[2.78,-4.2],[1.55,-4.27],[2.1,-4.25],[4.42,-4.25],[4.43,-4.35],[0.08,-4.52],[0.35,-4.42],[0.73,-4.43],[1.08,-4.43],[1.87,-4.45],[2.6,-4.55],[2.95,-4.5],[3.0,-4.52],[3.2,-4.55],[3.23,-4.58],[1.92,-4.72],[1.98,-4.82],[2.07,-4.85],[2.2,-4.85],[4.17,-4.83],[1.22,-4.88],[1.75,-4.95],[1.53,-5.05],[2.02,-5.07],[4.75,-5.05],[1.58,-5.22],[2.08,-5.37],[3.65,-5.68],[1.9,-5.75],[1.53,-5.85],[4.97,-5.8],[3.38,-5.95],[1.2,-6.13],[4.08,-6.2],[2.35,-6.28],[0.1,-6.45],[1.82,-6.4],[2.03,-6.45],[1.93,-6.52],[2.5,-6.65],[1.93,-6.75],[0.82,-6.85]];
const pointsI = [[-0.83,-0.75],[5.13,8.8],[4.67,5.95],[4.77,5.97],[5.55,5.97],[3.72,5.6],[2.78,5.1],[3.17,4.85],[5.35,5.2],[5.7,5.1],[6.63,5.05],[6.92,4.7],[4.65,4.55],[6.08,4.3],[3.7,3.95],[5.33,3.7],[2.63,3.15],[4.17,3.15],[6.0,2.8],[3.72,2.8],[3.25,2.8],[3.13,2.55],[5.77,2.4],[3.9,2.3],[0.77,2.3],[5.47,2.08],[5.55,2.0],[2.2,1.9],[3.07,1.9],[3.12,1.92],[3.4,1.7],[1.07,1.62],[1.82,1.6],[1.8,1.45],[2.8,1.62],[2.85,1.63],[4.83,1.63],[3.27,1.33],[2.28,1.22],[3.55,1.05],[3.88,1.07],[5.68,0.95],[5.9,0.95],[0.17,0.72],[2.0,0.67],[3.05,0.6],[3.47,0.47],[4.3,0.42],[3.17,0.22],[3.45,0.15],[3.45,-0.1],[0.73,-0.1],[0.85,-0.08],[2.2,-0.02],[2.8,-0.17],[1.08,-0.23],[5.68,-0.37],[5.75,-0.45],[5.95,-0.5],[6.0,-0.5],[0.43,-0.53],[2.77,-0.52],[3.47,-0.55],[4.17,-0.65],[4.2,-0.65],[2.27,-0.68],[2.4,-0.8],[2.8,-0.82],[3.82,-0.97],[6.15,-0.95],[2.37,-1.15],[2.33,-1.25],[1.9,-1.3],[1.88,-1.38],[3.82,-1.4],[4.95,-1.43],[1.2,-1.45],[2.05,-1.45],[2.78,-1.52],[2.87,-1.5],[3.25,-1.45],[1.07,-1.55],[2.5,-1.65],[1.92,-1.55],[1.93,-1.8],[3.28,-1.75],[3.18,-1.85],[4.42,-1.8],[4.5,-1.83],[1.1,-1.85],[1.22,-1.9],[2.55,-1.9],[2.65,-1.95],[5.53,-1.7],[5.75,-1.93],[0.75,-2.15],[1.0,-2.0],[2.2,-2.0],[2.35,-2.05],[3.05,-2.0],[5.13,-2.13],[1.72,-2.2],[1.78,-2.15],[1.85,-2.3],[2.0,-2.1],[2.05,-2.25],[2.37,-2.35],[3.35,-2.2],[4.0,-2.3],[1.7,-2.4],[2.05,-2.4],[2.45,-2.55],[3.05,-2.45],[3.35,-2.6],[2.58,-2.55],[1.85,-2.7],[2.05,-2.65],[2.95,-2.7],[3.08,-2.75],[3.95,-2.7],[4.05,-2.7],[1.92,-2.85],[2.8,-2.85],[3.0,-2.85],[3.15,-2.85],[3.2,-2.95],[5.3,-2.95],[5.5,-2.85],[0.08,-2.85],[0.28,-2.9],[4.1,-2.9],[4.15,-3.05],[5.38,-3.0],[5.18,-3.1],[1.03,-3.1],[1.12,-3.1],[1.18,-3.05],[1.2,-3.03],[1.45,-3.1],[1.63,-3.13],[1.9,-3.0],[2.0,-3.05],[2.03,-3.1],[2.55,-3.2],[2.7,-3.1],[2.8,-3.0],[2.05,-3.2],[4.1,-3.15],[3.7,-3.15],[4.28,-3.15],[1.22,-3.35],[1.23,-3.25],[1.55,-3.3],[2.2,-3.35],[2.27,-3.35],[2.62,-3.35],[3.25,-3.4],[3.8,-3.3],[0.5,-3.4],[4.4,-3.45],[4.5,-3.4],[3.9,-3.5],[1.6,-3.5],[2.25,-3.55],[2.62,-3.5],[2.93,-3.6],[2.98,-3.55],[3.47,-3.65],[1.83,-3.65],[1.1,-3.7],[0.1,-3.7],[0.35,-3.65],[0.73,-3.75],[2.42,-3.8],[2.55,-3.75],[2.75,-3.8],[2.85,-3.85],[3.3,-3.8],[0.73,-3.85],[2.2,-3.9],[2.05,-3.95],[1.93,-3.9],[1.67,-4.05],[1.75,-4.02],[0.82,-4.0],[0.88,-4.1],[0.95,-4.2],[1.0,-4.25],[1.52,-4.25],[1.6,-4.1],[1.9,-4.15],[2.02,-4.1],[2.1,-4.05],[2.5,-4.1],[2.58,-4.05],[2.7,-4.1],[2.78,-4.15],[3.1,-4.1],[3.15,-4.2],[3.55,-4.25],[3.6,-4.15],[3.72,-4.12],[3.85,-4.12],[4.42,-4.2],[5.45,-4.13],[1.9,-4.3],[2.0,-4.3],[2.75,-4.25],[2.8,-4.4],[3.05,-4.35],[3.38,-4.4],[3.45,-4.4],[3.55,-4.4],[1.58,-4.45],[1.22,-4.45],[1.8,-4.55],[2.75,-4.6],[2.4,-4.6],[3.0,-4.6],[2.05,-4.65],[2.4,-4.7],[3.22,-4.5],[0.7,-4.75],[0.92,-4.7],[1.5,-4.85],[1.57,-4.8],[2.0,-4.8],[2.05,-4.85],[2.35,-4.75],[2.6,-4.8],[2.9,-4.8],[3.0,-4.75],[3.5,-4.9],[0.32,-4.9],[0.14,-5.0],[1.5,-4.98],[1.55,-5.0],[1.73,-4.95],[1.9,-4.9],[2.4,-5.0],[3.05,-4.95],[1.8,-5.1],[2.35,-5.1],[3.25,-5.15],[4.65,-5.2],[4.75,-5.05],[2.2,-5.15],[2.1,-5.25],[2.28,-5.3],[2.32,-5.4],[2.82,-5.2],[3.0,-5.35],[3.15,-5.4],[3.2,-5.5],[2.1,-5.5],[2.05,-5.6],[3.05,-5.6],[3.15,-5.6],[1.52,-5.85],[1.55,-5.8],[1.1,-5.95],[2.0,-5.95],[1.9,-6.0],[1.95,-5.9],[5.13,-5.95],[0.08,-6.05],[3.5,-6.15],[3.85,-6.25],[2.55,-6.2],[2.6,-6.3],[2.72,-6.3],[2.83,-6.4],[1.62,-6.4],[1.83,-6.4],[3.35,-6.4],[2.0,-6.45],[2.3,-6.5],[1.18,-6.55],[1.12,-6.6],[0.73,-6.7],[0.82,-6.7],[1.6,-6.8],[2.55,-6.7],[4.5,-6.7],[3.55,-7.1],[2.02,-7.1],[2.08,-7.2],[2.7,-7.4],[2.57,-7.6]];
const tpx2Ticks = [0,2,4,6];
const ticksF = [-2,0,2,4,6];
const ticksG = [-2,0,2,4];
const ticksH = [-5,-2.5,0,2.5,5];
const ticksI = [-5,0,5];

const PLUS = "path://M-1,-5H1V-1H5V1H1V5H-1V1H-5V-1H-1Z";

function stepValue(t: number[], s: number[], x: number) {
  let v = s[0];
  for (let i = 0; i < t.length; i++) if (t[i] <= x) v = s[i];
  return v;
}
function lerpHeat(v: number) {
  const f = Math.abs(v);
  const c = Math.round(255 * (1 - f));
  return v >= 0 ? `rgb(255,${c},${c})` : `rgb(${c},${c},255)`;
}

function buildOption() {
  const grid: any[] = [], xAxis: any[] = [], yAxis: any[] = [], series: any[] = [], graphic: any[] = [];
  const text = (x: number, y: number, s: string, o: any = {}) => graphic.push({
    type: "text", x, y, rotation: o.rot || 0, silent: true,
    style: { text: s, fill: o.color || "#111", font: `${o.italic ? "italic " : ""}${o.bold ? "bold " : ""}${o.size || 14}px ${FONT}`,
      align: o.align || "center", verticalAlign: "middle", textAlign: o.align || "center", textVerticalAlign: "middle" },
  });
  const addGrid = (l: number, t: number, r: number, b: number, extra: any = {}) => {
    grid.push({ left: l, top: t, width: r - l, height: b - t, containLabel: false, ...extra });
    return grid.length - 1;
  };

  // ===== Panel A
  const gA = addGrid(149.5, 26, 1640.5, 598);
  xAxis.push({ gridIndex: gA, type: "category", data: sampleBoundaries.map((_, i) => `TCGA.${sampleIds[i] || "A4.0000"}.01A`), offset: 6,
    axisLine: { onZero: false, lineStyle: { color: "#444", width: 1 } }, axisTick: { length: 3, interval: 0, alignWithLabel: true, lineStyle: { color: "#444" } },
    axisLabel: { interval: 0, rotate: 60, fontSize: 6, fontFamily: FONT, color: "#333", margin: 4 } });
  yAxis.push({ gridIndex: gA, type: "value", min: 0, max: 100, interval: 20, offset: 59.5, splitLine: { show: false },
    axisLine: { show: true, onZero: false, lineStyle: { color: "#555", width: 1.5 } }, axisTick: { show: true, length: 8, lineStyle: { color: "#555", width: 1.5 } },
    axisLabel: { formatter: "{value}%", fontSize: 13, fontFamily: FONT, color: "#333", margin: 8 } });
  const diff = (f: (r: number[], i: number) => number) => sampleBoundaries.map(f);
  const segs: Record<string, number[]> = {
    "B.cells.naive": diff((_, i) => bNaiveSparse[i] || 0),
    "B.cells.memory": diff((r, i) => Math.max(0, r[0] - (bNaiveSparse[i] || 0))),
    "Plasma.cells": diff((r) => Math.max(0, r[1] - r[0])),
    "T.cells.CD8": diff((r) => Math.max(0, r[2] - r[1])),
    "T.cells.CD4.memory.resting": diff((r) => Math.max(0, r[3] - r[2])),
    "T.cells.CD4.memory.activated": diff((r) => Math.max(0, r[4] - r[3])),
    "NK.cells.activated": diff((r) => Math.max(0, r[5] - r[4])),
    "Macrophages.M0": diff((r) => Math.max(0, r[6] - r[5])),
    "Macrophages.M2": diff((r) => Math.max(0, r[7] - r[6])),
    "Mast.cells.resting": diff((r) => Math.max(0, r[8] - r[7])),
    "Neutrophils": diff((r) => Math.max(0, 100 - r[8])),
  };
  immuneNames.forEach((name, i) => {
    const d = segs[name];
    series.push({ type: "bar", name, stack: "cells", xAxisIndex: 0, yAxisIndex: 0, barWidth: 7.4, silent: true, data: d || [],
      itemStyle: { color: immuneColors[i], borderColor: "rgba(30,30,30,0.8)", borderWidth: 0.8 } });
  });
  text(37, 315, "Relative Percent", { rot: Math.PI / 2, size: 12.5, color: "#333" });

  // ===== Panel B
  const gB = addGrid(77.5, 710, 887.1, 1070.7);
  const xBcat = xAxis.length;
  xAxis.push({ gridIndex: gB, type: "category", data: boxCategories,
    axisLine: { onZero: false, lineStyle: { color: "#222", width: 1.5 } }, axisTick: { length: 5, interval: 0, alignWithLabel: true, lineStyle: { color: "#222" } },
    axisLabel: { interval: 0, rotate: 57, fontSize: 13.5, fontStyle: "italic", fontFamily: FONT, color: "#222", margin: 7, verticalAlign: "top" } });
  const xBval = xAxis.length;
  xAxis.push({ gridIndex: gB, type: "value", min: -0.5, max: 21.5, show: false });
  const yB = yAxis.length;
  yAxis.push({ gridIndex: gB, type: "value", min: -0.0426, max: 0.8776, offset: 3, splitLine: { show: false },
    axisLine: { show: true, onZero: false, lineStyle: { color: "#222", width: 1.5 } },
    axisTick: { show: true, length: 4, customValues: [0, .2, .4, .6, .8], lineStyle: { color: "#222" } },
    axisLabel: { customValues: [0, .2, .4, .6, .8], formatter: (v: number) => v.toFixed(1), fontSize: 13, fontFamily: FONT, color: "#222", margin: 4 } });
  const boxSeries = (boxes: number[][], dx: number, color: string) => ({
    type: "custom", xAxisIndex: xBval, yAxisIndex: yB, silent: true, clip: false,
    data: boxes.map((b, i) => [i, ...b]),
    encode: { x: 0, y: 1 },
    renderItem: (_p: any, api: any) => {
      const i = api.value(0);
      const [q1, med, q3, lo, hi] = [api.value(1), api.value(2), api.value(3), api.value(4), api.value(5)];
      const P = (x: number, y: number) => api.coord([x, y]);
      const L = P(i + dx - 0.18, q3), R = P(i + dx + 0.18, q1);
      const line = (a: number[], b: number[], w: number) => ({ type: "line", shape: { x1: a[0], y1: a[1], x2: b[0], y2: b[1] }, style: { stroke: color, lineWidth: w } });
      return { type: "group", children: [
        line(P(i + dx, q3), P(i + dx, hi), 1.2), line(P(i + dx, q1), P(i + dx, lo), 1.2),
        { type: "rect", shape: { x: L[0], y: L[1], width: R[0] - L[0], height: R[1] - L[1] }, style: { fill: "#fff", stroke: color, lineWidth: 1.5 } },
        line(P(i + dx - 0.18, med), P(i + dx + 0.18, med), 2.4),
      ] };
    },
  });
  const outSeries = (out: number[][], dx: number, color: string) => ({
    type: "scatter", xAxisIndex: xBval, yAxisIndex: yB, silent: true, symbolSize: 5.5, itemStyle: { color },
    data: out.flatMap((list, i) => list.map((v) => [i + dx, v])),
  });
  const t1c = "#74AED6", t2c = "#F2673A";
  series.push(boxSeries(type1Boxes, -0.2, t1c), boxSeries(type2Boxes, 0.2, t2c), outSeries(type1Outliers, -0.2, t1c), outSeries(type2Outliers, 0.2, t2c));
  series.push({ type: "scatter", xAxisIndex: xBval, yAxisIndex: yB, silent: true, symbolSize: 0,
    data: significance.map((s, i) => ({ value: [i, 0.8457], sig: s })),
    label: { show: true, position: "inside", fontSize: 12.5, fontFamily: FONT, color: "#222", formatter: (p: any) => significance[p.dataIndex] } });
  graphic.push({ type: "line", silent: true, shape: { x1: 887, y1: 1070.7, x2: 891, y2: 1070.7 }, style: { stroke: "#222", lineWidth: 1.5 } });
  graphic.push({ type: "line", silent: true, shape: { x1: 74.5, y1: 1070.7, x2: 78, y2: 1070.7 }, style: { stroke: "#222", lineWidth: 1.5 } });
  text(42, 890, "Gene expression", { rot: Math.PI / 2, size: 12.5, color: "#222" });
  text(428, 684, "type", { size: 12.5 });
  const boxGlyph = (cx: number, color: string) => {
    graphic.push({ type: "line", silent: true, shape: { x1: cx, y1: 677, x2: cx, y2: 691 }, style: { stroke: color, lineWidth: 1.2 } });
    graphic.push({ type: "rect", silent: true, shape: { x: cx - 7, y: 679, width: 14, height: 9 }, style: { fill: "#fff", stroke: color, lineWidth: 1.3 } });
    graphic.push({ type: "line", silent: true, shape: { x1: cx - 7, y1: 684, x2: cx + 7, y2: 684 }, style: { stroke: color, lineWidth: 1.3 } });
  };
  boxGlyph(455, t1c); boxGlyph(508.6, t2c);
  text(469, 684, "type1", { size: 12, align: "left" });
  text(523, 684, "type2", { size: 12, align: "left" });

  // ===== Panels C, D
  const km = (g: any) => {
    const gi = addGrid(g.l, g.top, g.r, g.bottom);
    const xi = xAxis.length, yi = yAxis.length;
    xAxis.push({ gridIndex: gi, type: "value", min: -0.394, max: 8.396, splitLine: { show: false },
      axisLine: { onZero: false, lineStyle: { color: "#222", width: 1.6 } }, axisTick: { customValues: yearTicks, length: 4, lineStyle: { color: "#222" } },
      axisLabel: { customValues: yearTicks, fontSize: 14, fontFamily: FONT, color: "#222", margin: 6 } });
    yAxis.push({ gridIndex: gi, type: "value", min: -0.0488, max: 1.047, splitLine: { show: false },
      axisLine: { show: true, onZero: false, lineStyle: { color: "#222", width: 1.6 } }, axisTick: { show: true, customValues: survivalTicks, length: 4, lineStyle: { color: "#222" } },
      axisLabel: { customValues: survivalTicks, formatter: (v: number) => v.toFixed(2), fontSize: 14, fontFamily: FONT, color: "#222", margin: 6 } });
    const ribbon = (t: number[], lo: number[], up: number[], fill: string) => ({
      type: "custom", xAxisIndex: xi, yAxisIndex: yi, silent: true, z: 1, data: [[0, 1]], encode: { x: 0, y: 1 },
      renderItem: (_p: any, api: any) => {
        const pts: number[][] = [];
        for (let i = 0; i < up.length; i++) pts.push(api.coord([t[i], up[i]]), api.coord([t[i + 1], up[i]]));
        for (let i = lo.length - 1; i >= 0; i--) pts.push(api.coord([t[i + 1], lo[i]]), api.coord([t[i], lo[i]]));
        return { type: "polygon", shape: { points: pts }, style: { fill } };
      },
    });
    series.push(ribbon(g.hb, g.hl, g.hu, "rgba(255,0,0,0.3)"), ribbon(g.lb, g.ll, g.lu, "rgba(0,0,255,0.3)"));
    const curve = (t: number[], s: number[], color: string) => ({
      type: "line", xAxisIndex: xi, yAxisIndex: yi, step: "end", symbol: "none", silent: true, z: 3,
      lineStyle: { color, width: 2.4 }, data: t.map((v, i) => [v, s[i]]),
    });
    const marks = (c: number[], t: number[], s: number[], color: string) => ({
      type: "scatter", xAxisIndex: xi, yAxisIndex: yi, silent: true, z: 4, symbol: PLUS, symbolSize: 10, itemStyle: { color },
      data: c.map((v) => [v, stepValue(t, s, v)]),
    });
    series.push(curve(g.ht, g.hs, "#FF0000"), curve(g.lt, g.ls, "#0000FF"), marks(g.hc, g.ht, g.hs, "#FF0000"), marks(g.lc, g.lt, g.ls, "#0000FF"));
    // risk table
    const gr = addGrid(g.l, g.rt, g.r, g.rb);
    const xr = xAxis.length, yr = yAxis.length;
    xAxis.push({ gridIndex: gr, type: "value", min: -0.394, max: 8.396, splitLine: { show: false },
      axisLine: { onZero: false, lineStyle: { color: "#222", width: 1.6 } }, axisTick: { customValues: yearTicks, length: 3, lineStyle: { color: "#222" } },
      axisLabel: { customValues: yearTicks, fontSize: 14, fontFamily: FONT, color: "#222", margin: 5 } });
    yAxis.push({ gridIndex: gr, type: "category", data: ["low", "high"], axisLine: { show: true, onZero: false, lineStyle: { color: "#222", width: 1.6 } },
      axisTick: { show: true, length: 3, alignWithLabel: true, lineStyle: { color: "#222" } },
      axisLabel: { interval: 0, fontSize: 14, fontFamily: FONT, margin: 5, color: (v: string) => (v === "high" ? "#FF0000" : "#0000FF") } });
    const riskNums = (list: number[], row: number) => ({
      type: "scatter", xAxisIndex: xr, yAxisIndex: yr, silent: true, symbolSize: 0,
      data: list.map((n, i) => [yearTicks[i], row, n]),
      label: { show: true, position: "inside", fontSize: 15, fontFamily: FONT, color: "#111", formatter: (p: any) => String(p.value[2]) },
    });
    series.push(riskNums(g.hr, 1), riskNums(g.lr, 0));
    text(g.tx, g.ty, "Time(years)", { size: 16 });
    text(g.tx, g.ty2, "Time(years)", { size: 16 });
    text(g.yx, g.yc, "Survival probability", { rot: Math.PI / 2, size: 14.8 });
    text(g.yx, g.rc, g.levelTitle, { rot: Math.PI / 2, size: 15 });
    text(g.px, g.py, g.pv, { size: 16, align: "left" });
    text(g.lgx, g.lgy, g.lgText, { size: 11.7, align: "left" });
    const lgItem = (x: number, col: string, fill: string, label: string, lx: number) => {
      graphic.push({ type: "rect", silent: true, shape: { x, y: g.lgy - 8.7, width: 17.5, height: 17.5 }, style: { fill } });
      graphic.push({ type: "line", silent: true, shape: { x1: x + 1, y1: g.lgy, x2: x + 16.5, y2: g.lgy }, style: { stroke: col, lineWidth: 2.2 } });
      graphic.push({ type: "line", silent: true, shape: { x1: x + 8.7, y1: g.lgy - 4, x2: x + 8.7, y2: g.lgy + 4 }, style: { stroke: col, lineWidth: 2 } });
      text(lx, g.lgy, label, { size: 12, align: "left" });
    };
    lgItem(g.lgb1, "#FF0000", "rgba(255,0,0,0.3)", "high", g.lgb1 + 23);
    lgItem(g.lgb2, "#0000FF", "rgba(0,0,255,0.3)", "low", g.lgb2 + 23);
  };
  km({ l: 959.2, r: 1409.6, top: 740.7, bottom: 972, rt: 1045, rb: 1080.7,
    hb: cHighBandT, hl: cHighLower, hu: cHighUpper, lb: cLowBandT, ll: cLowLower, lu: cLowUpper,
    ht: cHighT, hs: cHighS, lt: cLowT, ls: cLowS, hc: cHighCensor, lc: cLowCensor, hr: cHighRisk, lr: cLowRisk,
    tx: 1185, ty: 1000, ty2: 1108, yx: 915.5, yc: 856, rc: 1065, levelTitle: "macrophages M1 level",
    px: 989, py: 920, pv: "p=4.654e\u221202", lgx: 1081, lgy: 711, lgText: "Macrophages.M1 level", lgb1: 1197, lgb2: 1248 });
  km({ l: 1490, r: 1941, top: 744.3, bottom: 975.7, rt: 1048.3, rb: 1084.7,
    hb: dHighBandT, hl: dHighLower, hu: dHighUpper, lb: dLowBandT, ll: dLowLower, lu: dLowUpper,
    ht: dHighT, hs: dHighS, lt: dLowT, ls: dLowS, hc: dHighCensor, lc: dLowCensor, hr: dHighRisk, lr: dLowRisk,
    tx: 1716, ty: 1003, ty2: 1112, yx: 1446.4, yc: 860, rc: 1068, levelTitle: "macrophages M2 level",
    px: 1519.7, py: 924, pv: "p=1.395e\u221202", lgx: 1612.6, lgy: 715, lgText: "Macrophages.M2 level", lgb1: 1728.5, lgb2: 1779 });

  // ===== Panel E
  const gE = addGrid(200.9, 1418.3, 903.7, 2121.3);
  const xE = xAxis.length, yE = yAxis.length;
  xAxis.push({ gridIndex: gE, type: "category", data: corrNames, position: "top", axisLine: { show: false, onZero: false }, axisTick: { show: false }, splitLine: { show: false },
    axisLabel: { interval: 0, rotate: 90, fontSize: 12.8, fontFamily: FONT, color: "#222", margin: 6 } });
  yAxis.push({ gridIndex: gE, type: "category", data: corrNames, inverse: true, axisLine: { show: false, onZero: false }, axisTick: { show: false }, splitLine: { show: false },
    axisLabel: { interval: 0, fontSize: 12.9, fontFamily: FONT, color: "#222", margin: 8 } });
  const heatIndex = series.length;
  series.push({ type: "heatmap", xAxisIndex: xE, yAxisIndex: yE, silent: true, progressive: 0,
    data: corrMatrix.flatMap((row, r) => row.map((v, c) => [c, r, v])),
    label: { show: true, fontSize: 10.5, fontWeight: "bold", fontFamily: FONT, color: "#000", formatter: (p: any) => String(p.value[2]) } });
  const gBar = addGrid(916.5, 1418.3, 942.6, 2121.3);
  const xBar = xAxis.length, yBar = yAxis.length;
  xAxis.push({ gridIndex: gBar, type: "value", min: 0, max: 1, show: false });
  yAxis.push({ gridIndex: gBar, type: "value", min: -1, max: 1, interval: 0.2, position: "right", splitLine: { show: false },
    axisLine: { show: false, onZero: false }, axisTick: { show: true, length: 6, lineStyle: { color: "#444" } },
    axisLabel: { align: "center", margin: 33, fontSize: 12, fontFamily: FONT, color: "#222" } });
  const colorSteps: number[][] = [];
  for (let i = 0; i < 100; i++) colorSteps.push([-1 + i * 0.02, -1 + (i + 1) * 0.02]);
  series.push({ type: "custom", xAxisIndex: xBar, yAxisIndex: yBar, silent: true, data: colorSteps, encode: { y: [0, 1] },
    renderItem: (_p: any, api: any) => {
      const lo = api.value(0), hi = api.value(1);
      const a = api.coord([0, hi]), b = api.coord([1, lo]);
      const col = lerpHeat((lo + hi) / 2);
      return { type: "rect", shape: { x: a[0], y: a[1], width: b[0] - a[0], height: b[1] - a[1] }, style: { fill: col, stroke: col, lineWidth: 0.3 } };
    } });

  // ===== Panels F-I
  const scatter = (g: any) => {
    const gi = addGrid(g.l, g.t, g.r, g.b, { show: true, borderColor: "#666", borderWidth: 1.5, backgroundColor: "#fff" });
    const xi = xAxis.length, yi = yAxis.length;
    xAxis.push({ gridIndex: gi, type: "value", min: g.x0, max: g.x1, splitLine: { show: false },
      axisLine: { show: false, onZero: false }, axisTick: { show: true, customValues: tpx2Ticks, length: 4, lineStyle: { color: "#444" } },
      axisLabel: { customValues: tpx2Ticks, fontSize: 20, fontFamily: FONT, color: "#222", margin: 7 } });
    yAxis.push({ gridIndex: gi, type: "value", min: g.y0, max: g.y1, splitLine: { show: false },
      axisLine: { show: false, onZero: false }, axisTick: { show: true, customValues: g.yt, length: 4, lineStyle: { color: "#444" } },
      axisLabel: { customValues: g.yt, formatter: g.fmt, fontSize: 20, fontFamily: FONT, color: "#222", margin: 6 } });
    series.push({ type: "scatter", xAxisIndex: xi, yAxisIndex: yi, silent: true, symbolSize: 6.6, progressive: 0, itemStyle: { color: "#06C27F" }, data: g.pts });
    text(g.cx, g.ty, "KIRP (291 samples)", { size: 19.8 });
    text(g.cx, g.xt, "TPX2_exp", { size: 20.9 });
    text(g.cx, g.xt + 22, "Spearman Correlation Test:", { size: 20.5 });
    text(g.cx, g.xt + 44.5, g.rho, { size: 20.4 });
    text(g.yx, g.yc, g.yn, { rot: Math.PI / 2, size: 20.6 });
  };
  const f1 = (v: number) => v.toFixed(1);
  const f0 = (v: number) => String(v);
  scatter({ l: 1134, r: 1488.7, t: 1221.7, b: 1568.7, x0: -1.206, x1: 7.296, y0: -3.52, y1: 6.3, yt: ticksF, fmt: f0, pts: pointsF, cx: 1311, ty: 1202.7, xt: 1604, rho: "rho = 0.42, p = 5.78e-14", yx: 1094, yc: 1395, yn: "IDO1_exp" });
  scatter({ l: 1586.7, r: 1938.7, t: 1221.7, b: 1565.7, x0: -1.21, x1: 7.31, y0: -2.97, y1: 4.26, yt: ticksG, fmt: f0, pts: pointsG, cx: 1762, ty: 1203, xt: 1601.7, rho: "rho = 0.208, p = 0.000355", yx: 1547.7, yc: 1393, yn: "MICB_exp" });
  scatter({ l: 1136.7, r: 1485, t: 1718.3, b: 2075, x0: -1.2, x1: 7.27, y0: -7.41, y1: 5.3, yt: ticksH, fmt: f1, pts: pointsH, cx: 1310, ty: 1698, xt: 2112.7, rho: "rho = 0.281, p = 1.19e-06", yx: 1079, yc: 1896.7, yn: "TNFRSF9_exp" });
  scatter({ l: 1580.3, r: 1942.7, t: 1722.7, b: 2076, x0: -1.205, x1: 7.3, y0: -8.28, y1: 9.59, yt: ticksI, fmt: f0, pts: pointsI, cx: 1761, ty: 1703, xt: 2113, rho: "rho = 0.321, p = 2.44e-08", yx: 1539, yc: 1899, yn: "CXCL13_exp" });

  // panel letters
  const letters: [string, number, number][] = [["A", 1, 22], ["B", 3, 713.5], ["C", 890, 713.5], ["D", 1420, 714], ["E", 1, 1409], ["F", 1044, 1221], ["G", 1510, 1221], ["H", 1045, 1702], ["I", 1522, 1702]];
  letters.forEach(([s, x, y]) => text(x, y, s, { size: 53, align: "left", color: "#000" }));

  return {
    animation: false, backgroundColor: "#fff", textStyle: { fontFamily: FONT },
    grid, xAxis, yAxis, series, graphic: { elements: graphic },
    legend: { show: true, orient: "vertical", left: 1677, top: 31, itemWidth: 8, itemHeight: 8, itemGap: 0, icon: "rect", selectedMode: false,
      data: immuneNames, textStyle: { fontSize: 17, fontFamily: FONT, color: "#222", lineHeight: 19.77, padding: [0, 0, 0, 2] } },
    visualMap: { type: "continuous", show: false, min: -1, max: 1, dimension: 2, seriesIndex: [heatIndex], inRange: { color: ["#0000FF", "#FFFFFF", "#FF0000"] } },
  };
}

export default function App() {
  const ref = useRef<HTMLDivElement>(null);
  useEffect(() => {
    const chart = echarts.init(ref.current!, undefined, { renderer: "svg" });
    chart.setOption(buildOption() as any);
    return () => chart.dispose();
  }, []);
  return <div ref={ref} style={{ position: "absolute", left: 0, top: 0, width: 1944, height: 2172 }} />;
}
